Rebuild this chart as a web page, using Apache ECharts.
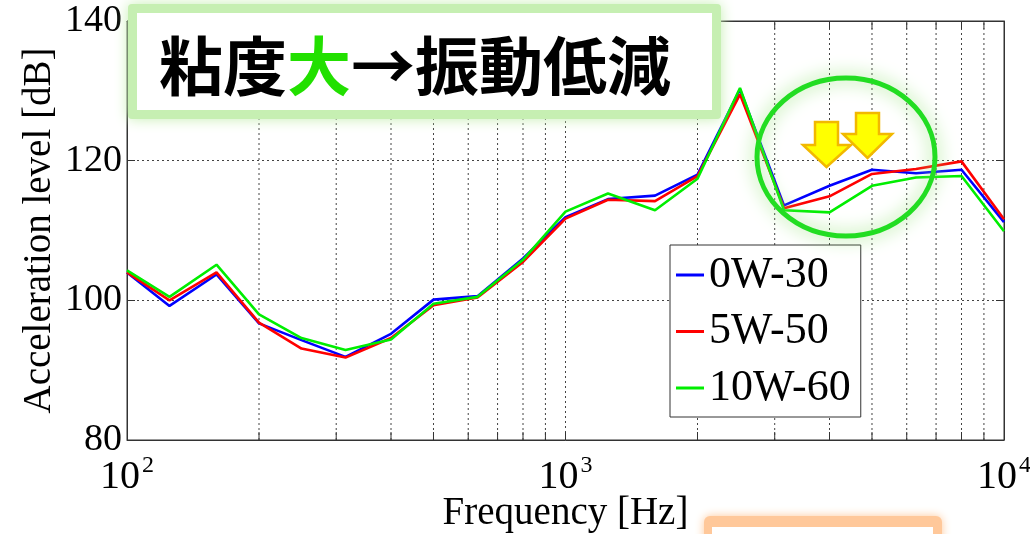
<!DOCTYPE html>
<html>
<head>
<meta charset="utf-8">
<script src="https://cdn.jsdelivr.net/npm/echarts@6/dist/echarts.min.js"></script>
<style>
  html, body { margin: 0; padding: 0; background: #fff; }
  #chart { width: 1030px; height: 534px; }
</style>
</head>
<body>
<div id="chart"></div>
<script>
// One-third-octave band centre frequencies [Hz]
const freqs = [100, 125, 160, 200, 250, 315, 400, 500, 630, 800, 1000, 1250, 1600, 2000, 2500, 3150, 4000, 5000, 6300, 8000, 10000];

// Acceleration level [dB] for each oil
const oil0W30  = [104.0, 99.2, 103.7, 96.7, 94.3, 91.9, 95.2, 100.1, 100.6, 106.0, 111.9, 114.5, 115.0, 118.0, 130.2, 113.6, 116.4, 118.7, 118.2, 118.7, 111.2];
const oil5W50  = [104.0, 100.0, 104.0, 96.8, 93.1, 91.8, 94.6, 99.3, 100.4, 105.5, 111.7, 114.4, 114.2, 117.8, 129.5, 113.2, 114.9, 118.1, 118.8, 119.9, 111.6];
const oil10W60 = [104.3, 100.5, 105.1, 98.0, 94.6, 92.9, 94.4, 99.5, 100.5, 105.8, 112.7, 115.3, 112.9, 117.4, 130.4, 112.9, 112.6, 116.4, 117.6, 117.8, 109.9];

const seriesNames = ['0W-30', '5W-50', '10W-60'];
const seriesColors = ['#0000ff', '#ff0000', '#00ee00'];

// Minor log-decade grid positions
const minorFreqs = [200, 300, 400, 500, 600, 700, 800, 900, 2000, 3000, 4000, 5000, 6000, 7000, 8000, 9000];

// Axis ranges and labels
const yTicks = [80, 100, 120, 140];
const xDecades = { 100: '2', 1000: '3', 10000: '4' };

const serif = '"Liberation Serif", "DejaVu Serif", serif';
const gridColor = '#444';

const chart = echarts.init(document.getElementById('chart'));

const pairs = vals => freqs.map((f, i) => [f, vals[i]]);

const lineSeries = [oil0W30, oil5W50, oil10W60].map((vals, i) => ({
  name: seriesNames[i],
  type: 'line',
  data: pairs(vals),
  symbol: 'none',
  lineStyle: { color: seriesColors[i], width: 2.6 },
  itemStyle: { color: seriesColors[i] },
  z: 5 + i
}));

// Dotted minor gridlines plus inward ticks on the bottom and top frame
const minorGrid = {
  type: 'custom',
  silent: true,
  data: minorFreqs.map(f => [f, yTicks[0]]),
  encode: { x: 0, y: 1 },
  z: 1,
  renderItem: function (params, api) {
    const f = api.value(0);
    const bottom = api.coord([f, yTicks[0]]);
    const top = api.coord([f, yTicks[yTicks.length - 1]]);
    return {
      type: 'group',
      children: [
        { type: 'line', shape: { x1: bottom[0], y1: bottom[1], x2: top[0], y2: top[1] },
          style: { stroke: gridColor, lineWidth: 1, lineDash: [2, 3] } },
        { type: 'line', shape: { x1: bottom[0], y1: bottom[1], x2: bottom[0], y2: bottom[1] - 8 },
          style: { stroke: '#333', lineWidth: 1 } },
        { type: 'line', shape: { x1: top[0], y1: top[1], x2: top[0], y2: top[1] + 8 },
          style: { stroke: '#333', lineWidth: 1 } }
      ]
    };
  }
};

const option = {
  backgroundColor: '#fff',
  animation: false,
  grid: {
    left: 127, right: 26, top: 21, bottom: 94,
    containLabel: false, outerBoundsMode: 'none',
    show: true, borderColor: '#333', borderWidth: 1
  },
  legend: {
    data: seriesNames,
    orient: 'vertical',
    left: 670,
    top: 245,
    backgroundColor: '#fff',
    borderColor: '#333',
    borderWidth: 1,
    borderRadius: 0,
    padding: [8, 10, 7, 6],
    itemGap: 12.5,
    itemWidth: 28,
    itemHeight: 3,
    icon: 'rect',
    textStyle: { fontFamily: serif, fontSize: 44, color: '#000', lineHeight: 40, padding: [0, 0, 0, 0] },
    z: 20
  },
  xAxis: [{
    type: 'log',
    logBase: 10,
    min: 100,
    max: 10000,
    name: 'Frequency [Hz]',
    nameLocation: 'middle',
    nameGap: 54,
    nameMoveOverlap: false,
    nameTextStyle: { fontFamily: serif, fontSize: 39, color: '#000' },
    axisLine: { show: true, lineStyle: { color: '#333', width: 1 } },
    axisTick: { show: true, inside: true, length: 8, lineStyle: { color: '#333' } },
    splitLine: { show: true, lineStyle: { color: gridColor, width: 1, type: [2, 3] } },
    axisLabel: {
      margin: 14,
      showMinLabel: true,
      showMaxLabel: true,
      hideOverlap: false,
      formatter: function (v) {
        const key = Math.round(v);
        return '{b|10}{s|' + (xDecades[key] || '') + '}';
      },
      rich: {
        b: { fontFamily: serif, fontSize: 40, color: '#000' },
        s: { fontFamily: serif, fontSize: 24, color: '#000', padding: [0, 0, 22, 2] }
      }
    }
  }, {
    type: 'log',
    logBase: 10,
    min: 100,
    max: 10000,
    position: 'top',
    axisLine: { show: true, lineStyle: { color: '#333', width: 1 } },
    axisTick: { show: true, inside: true, length: 8, lineStyle: { color: '#333' } },
    axisLabel: { show: false },
    splitLine: { show: false }
  }],
  yAxis: [{
    type: 'value',
    min: 80,
    max: 140,
    interval: 20,
    name: 'Acceleration level [dB]',
    nameLocation: 'middle',
    nameGap: 68,
    nameMoveOverlap: false,
    nameTextStyle: { fontFamily: serif, fontSize: 39, color: '#000' },
    axisLine: { show: true, lineStyle: { color: '#333', width: 1 } },
    axisTick: { show: true, inside: true, length: 8, lineStyle: { color: '#333' } },
    splitLine: { show: true, lineStyle: { color: gridColor, width: 1, type: [2, 3] } },
    axisLabel: { fontFamily: serif, fontSize: 38, color: '#000', margin: 5 }
  }, {
    type: 'value',
    min: 80,
    max: 140,
    interval: 20,
    position: 'right',
    axisLine: { show: true, lineStyle: { color: '#333', width: 1 } },
    axisTick: { show: true, inside: true, length: 8, lineStyle: { color: '#333' } },
    axisLabel: { show: false },
    splitLine: { show: false }
  }],
  series: [minorGrid].concat(lineSeries),
  graphic: [
    // Headline box with soft green glow
    { type: 'rect', z: 30, shape: { x: 128, y: 4, width: 593, height: 115, r: 4 },
      style: { fill: '#c6efb2', shadowBlur: 14, shadowColor: '#c6efb2' } },
    { type: 'rect', z: 31, shape: { x: 137, y: 13, width: 575, height: 97 },
      style: { fill: '#ffffff' } },
    { type: 'text', z: 32, x: 415, y: 66,
      style: {
        text: '{k|粘度}{g|大}{k|→振動低減}',
        align: 'center', verticalAlign: 'middle',
        rich: {
          k: { fontFamily: '"Noto Sans CJK JP", sans-serif', fontWeight: 'bold', fontSize: 64, fill: '#000' },
          g: { fontFamily: '"Noto Sans CJK JP", sans-serif', fontWeight: 'bold', fontSize: 64, fill: '#22e000' }
        }
      } },
    // Highlight ring around the high-frequency region
    { type: 'ellipse', z: 25, shape: { cx: 846, cy: 157, rx: 89, ry: 79 },
      style: { fill: 'none', stroke: '#22dd22', lineWidth: 5, shadowBlur: 18, shadowColor: '#8fe070' } },
    // Downward arrows
    { type: 'polygon', z: 26,
      shape: { points: [[815, 122], [838, 122], [838, 145], [851, 145], [826.5, 167], [803, 145], [815, 145]] },
      style: { fill: '#ffff00', stroke: '#f2b800', lineWidth: 2.5, lineJoin: 'miter' } },
    { type: 'polygon', z: 26,
      shape: { points: [[856, 113], [879, 113], [879, 134], [892, 134], [867.5, 158], [843, 134], [856, 134]] },
      style: { fill: '#ffff00', stroke: '#f2b800', lineWidth: 2.5, lineJoin: 'miter' } },
    // Box edge at the bottom with orange glow
    { type: 'rect', z: 30, shape: { x: 704, y: 516, width: 238, height: 40, r: 6 },
      style: { fill: '#ffc89a', shadowBlur: 10, shadowColor: '#ffc89a' } },
    { type: 'rect', z: 31, shape: { x: 712, y: 527, width: 221, height: 30 },
      style: { fill: '#ffffff' } }
  ]
};

chart.setOption(option);
</script>
</body>
</html>
